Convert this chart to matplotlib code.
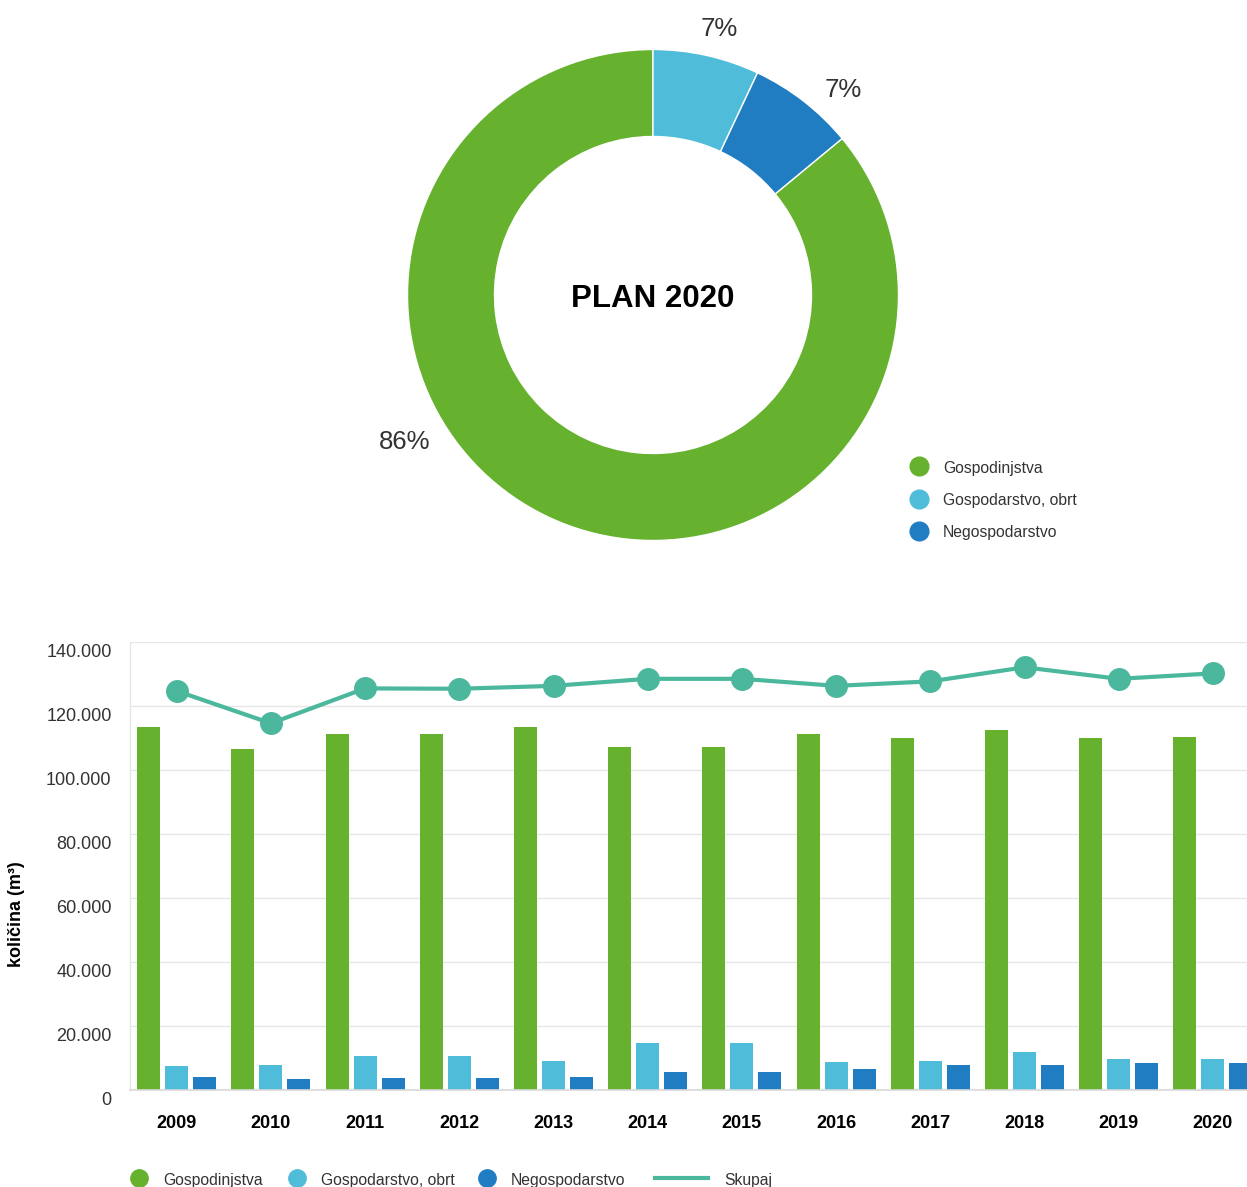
import numpy as np
import matplotlib
matplotlib.use('Agg')
import matplotlib.pyplot as plt
import matplotlib.transforms as mtransforms
from matplotlib.lines import Line2D

plt.rcParams['font.family'] = ['Liberation Sans', 'DejaVu Sans']

# ---------------- data ----------------
years = ['2009', '2010', '2011', '2012', '2013', '2014',
         '2015', '2016', '2017', '2018', '2019', '2020']
gospodinjstva = [113300, 106500, 111200, 111200, 113300, 107100,
                 107100, 111200, 109900, 112400, 109900, 110200]
gospodarstvo_obrt = [7400, 7700, 10500, 10500, 9000, 14600,
                     14600, 8700, 9000, 11800, 9600, 9600]
negospodarstvo = [4000, 3300, 3600, 3600, 4000, 5600,
                  5600, 6500, 7700, 7700, 8400, 8400]
skupaj = [124600, 114500, 125400, 125300, 126200, 128400,
          128400, 126200, 127600, 132000, 128400, 130100]

pie_labels = ['Gospodinjstva', 'Gospodarstvo, obrt', 'Negospodarstvo']
pie_percent = [86, 7, 7]
pie_title = 'PLAN 2020'

y_ticks = [0, 20000, 40000, 60000, 80000, 100000, 120000, 140000]
y_tick_labels = ['0', '20.000', '40.000', '60.000', '80.000',
                 '100.000', '120.000', '140.000']

# ---------------- style ----------------
C_GREEN = '#66b22f'
C_LBLUE = '#4fbdd9'
C_DBLUE = '#217dc2'
C_TEAL = '#4bb79c'
TXT = '#333333'

W, H = 1247, 1187
fig = plt.figure(figsize=(W / 100, H / 100), dpi=100)


def fx(x):
    return x / W


def fy(y):
    return 1 - y / H


# ---------------- donut ----------------
cx, cy, R = 653, 295, 245.5
axp = fig.add_axes([fx(cx - R), fy(cy + R), 2 * R / W, 2 * R / H])
colors = [C_GREEN, C_LBLUE, C_DBLUE]
start = 90 + 360 * pie_percent[0] / 100.0
wedges, _ = axp.pie(pie_percent, colors=colors, startangle=start,
                    counterclock=False, radius=1.0,
                    wedgeprops=dict(width=1 - 158.5 / R, edgecolor='white',
                                    linewidth=1))
axp.set_xlim(-1, 1)
axp.set_ylim(-1, 1)
axp.set_aspect('auto')
axp.axis('off')
axp.text(0, -4 / R, pie_title, ha='center', va='center', fontsize=22.5,
         fontweight='bold', color='black')

# percentage labels (placed like the reference)
lab_pos = [(-0.908, -0.599, 'right'), (0.269, 1.084, 'center'),
           (0.774, 0.835, 'center')]
for (px, py, ha), p in zip(lab_pos, pie_percent):
    axp.text(px, py, f'{p}%', ha=ha, va='center', fontsize=18.5,
             color=TXT, clip_on=False)

# donut legend
for i, (lab, col) in enumerate(zip(pie_labels, colors)):
    yy = [466, 498.5, 531][i]
    fig.add_artist(Line2D([fx(919)], [fy(yy)], marker='o', markersize=13.5,
                          color=col, linestyle='none',
                          transform=fig.transFigure))
    fig.text(fx(943), fy(yy + 2), lab, ha='left', va='center', fontsize=11.3,
             color=TXT)

# ---------------- bar + line chart ----------------
cat_w = 94.2
left_px = 176.7 - cat_w / 2
top_px, bot_px = 641.7, 1089.7
ax = fig.add_axes([fx(left_px), fy(bot_px), 12 * cat_w / W,
                   (bot_px - top_px) / H])

x = np.arange(len(years))
bw = 0.244
off = 0.298
ax.bar(x - off, gospodinjstva, width=bw, color=C_GREEN, zorder=2)
ax.bar(x, gospodarstvo_obrt, width=bw, color=C_LBLUE, zorder=2)
ax.bar(x + off, negospodarstvo, width=bw, color=C_DBLUE, zorder=2)
ax.plot(x, skupaj, color=C_TEAL, linewidth=3, marker='o', markersize=15.5,
        zorder=3, clip_on=False)

ax.set_xlim(-0.5, len(years) - 0.5)
ax.set_ylim(0, 140000)
ax.set_yticks(y_ticks)
ax.set_yticklabels(y_tick_labels)
ax.set_xticks(x)
ax.set_xticklabels(years, fontweight='bold')
ax.tick_params(axis='y', length=0, pad=13, labelsize=13, labelcolor=TXT)
ax.tick_params(axis='x', length=0, pad=18.5, labelsize=13, labelcolor='black')
shift = mtransforms.ScaledTranslation(0, -8.5 / 100, fig.dpi_scale_trans)
for lbl in ax.get_yticklabels():
    lbl.set_transform(lbl.get_transform() + shift)
ax.grid(axis='y', color='#e6e6e6', linewidth=1, zorder=0)
ax.set_axisbelow(True)
for s in ['top', 'right']:
    ax.spines[s].set_visible(False)
ax.spines['left'].set_color('#e6e6e6')
ax.spines['left'].set_linewidth(1)
ax.spines['bottom'].set_color('#d9d9d9')
ax.spines['bottom'].set_linewidth(1.2)
ax.set_ylabel('količina (m³)', fontsize=13, fontweight='bold', color='black')
ax.yaxis.set_label_coords((25 - left_px) / (12 * cat_w), 0.393)

# bottom legend
leg_y = 1178
bar_series = [('Gospodinjstva', C_GREEN, 139, 163),
              ('Gospodarstvo, obrt', C_LBLUE, 297, 321),
              ('Negospodarstvo', C_DBLUE, 487, 511)]
for lab, col, mx, tx in bar_series:
    fig.add_artist(Line2D([fx(mx)], [fy(leg_y)], marker='o', markersize=12.5,
                          color=col, linestyle='none',
                          transform=fig.transFigure))
    fig.text(fx(tx), fy(leg_y + 2), lab, ha='left', va='center', fontsize=11.3,
             color=TXT)
fig.add_artist(Line2D([fx(655), fx(708)], [fy(leg_y), fy(leg_y)],
                      color=C_TEAL, linewidth=3, transform=fig.transFigure))
fig.text(fx(724), fy(leg_y + 2), 'Skupaj', ha='left', va='center',
         fontsize=11.3, color=TXT)

fig.savefig('out.png', dpi=100, facecolor='white')
